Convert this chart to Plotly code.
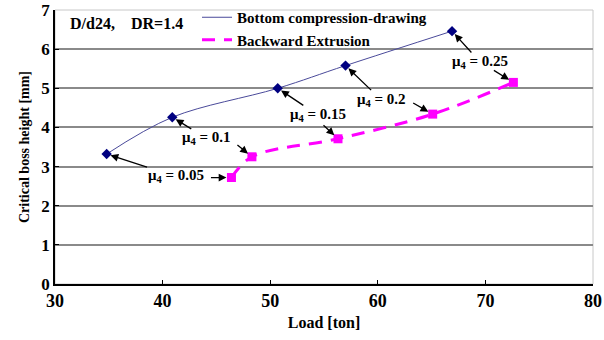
import plotly.graph_objects as go

# Data
mu_labels = ["0.05", "0.1", "0.15", "0.2", "0.25"]
bcd_load = [34.8, 40.9, 50.7, 57.0, 66.9]
bcd_height = [3.32, 4.26, 5.0, 5.58, 6.46]
be_load = [46.4, 48.3, 56.3, 65.1, 72.6]
be_height = [2.72, 3.25, 3.71, 4.34, 5.15]
x_ticks = [30, 40, 50, 60, 70, 80]
y_ticks = [0, 1, 2, 3, 4, 5, 6, 7]

FONT = "Liberation Serif"
BLUE = "#000080"
BLUE_LINE = "#4a4a9a"
PINK = "#ff00ff"

fig = go.Figure()

fig.add_trace(go.Scatter(x=bcd_load, y=bcd_height, mode="lines",
                         line=dict(color=BLUE_LINE, width=1, shape="spline"),
                         name="Bottom compression-drawing"))
fig.add_trace(go.Scatter(x=be_load, y=be_height, mode="lines",
                         line=dict(color=PINK, width=3, shape="spline", dash="13px,9px"),
                         name="Backward Extrusion"))
fig.add_trace(go.Scatter(x=bcd_load, y=bcd_height, mode="markers",
                         marker=dict(symbol="diamond", size=8, color=BLUE),
                         showlegend=False))
fig.add_trace(go.Scatter(x=be_load, y=be_height, mode="markers",
                         marker=dict(symbol="square", size=9, color=PINK),
                         showlegend=False))

annotations = []
label_pos = [(41.2, 2.75), (44.1, 3.72), (54.4, 4.32), (60.3, 4.71), (69.5, 5.67)]
for i, lab in enumerate(mu_labels):
    lx, ly = label_pos[i]
    annotations.append(dict(x=bcd_load[i], y=bcd_height[i], ax=lx, ay=ly, axref="x", ayref="y",
                            text="<b>μ<sub>4</sub> = " + lab + "</b>", showarrow=True,
                            arrowhead=2, arrowsize=1.2, arrowwidth=1.3, arrowcolor="black",
                            standoff=4, borderpad=0,
                            font=dict(family=FONT, size=15, color="black")))

pink_off = [(-22, 0), (-16, -13), (-16, -15), (-21, -12), (-21, -13)]
for i in range(len(mu_labels)):
    annotations.append(dict(x=be_load[i], y=be_height[i], ax=pink_off[i][0], ay=pink_off[i][1],
                            text="", showarrow=True, arrowhead=2, arrowsize=1.2, arrowwidth=1.3,
                            arrowcolor="black", standoff=5))

annotations.append(dict(xref="paper", yref="paper", x=(68 - 55) / 538, y=1 - (23 - 10) / 274,
                        xanchor="left", yanchor="middle", showarrow=False,
                        text="<b>D/d24,    DR=1.4</b>", font=dict(family=FONT, size=16, color="black")))

fig.update_layout(
    width=604, height=340,
    margin=dict(l=55, r=11, t=10, b=56, autoexpand=False),
    paper_bgcolor="white", plot_bgcolor="white",
    font=dict(family=FONT, color="black"),
    showlegend=True,
    legend=dict(x=(197 - 55) / 538, y=1 + 9 / 274, xanchor="left", yanchor="top",
                bgcolor="rgba(0,0,0,0)", font=dict(family=FONT, size=15, color="black", weight="bold"),
                tracegroupgap=0, itemwidth=30),
    annotations=annotations,
    shapes=[dict(type="rect", xref="paper", yref="paper", x0=0, y0=0, x1=1, y1=1,
                 line=dict(color="#c8c8c8", width=1), layer="below")],
    xaxis=dict(range=[30, 80], tickvals=x_ticks, ticktext=[f"<b>{v}</b>" for v in x_ticks],
               showgrid=False, zeroline=False, showline=True, linecolor="black", linewidth=1.5,
               ticks="inside", ticklen=4, tickcolor="black", ticklabeloverflow="allow",
               tickfont=dict(family=FONT, size=18, color="black"),
               title=dict(text="<b>Load [ton]</b>", font=dict(family=FONT, size=16, color="black"), standoff=6)),
    yaxis=dict(range=[0, 7], tickvals=y_ticks, ticktext=[f"<b>{v}</b>" for v in y_ticks],
               showgrid=True, gridcolor="#8a8a8a", gridwidth=1.5, zeroline=False,
               showline=True, linecolor="black", linewidth=1.5,
               ticks="inside", ticklen=4, tickcolor="black", ticklabeloverflow="allow",
               tickfont=dict(family=FONT, size=17, color="black"),
               title=dict(text="<b>Critical boss height [mm]</b>", font=dict(family=FONT, size=14, color="black"), standoff=8)),
)
for t in fig.data:
    t.cliponaxis = False

fig.write_html("out.html", config={"displayModeBar": False},
               post_script="document.body.style.margin='0';")
